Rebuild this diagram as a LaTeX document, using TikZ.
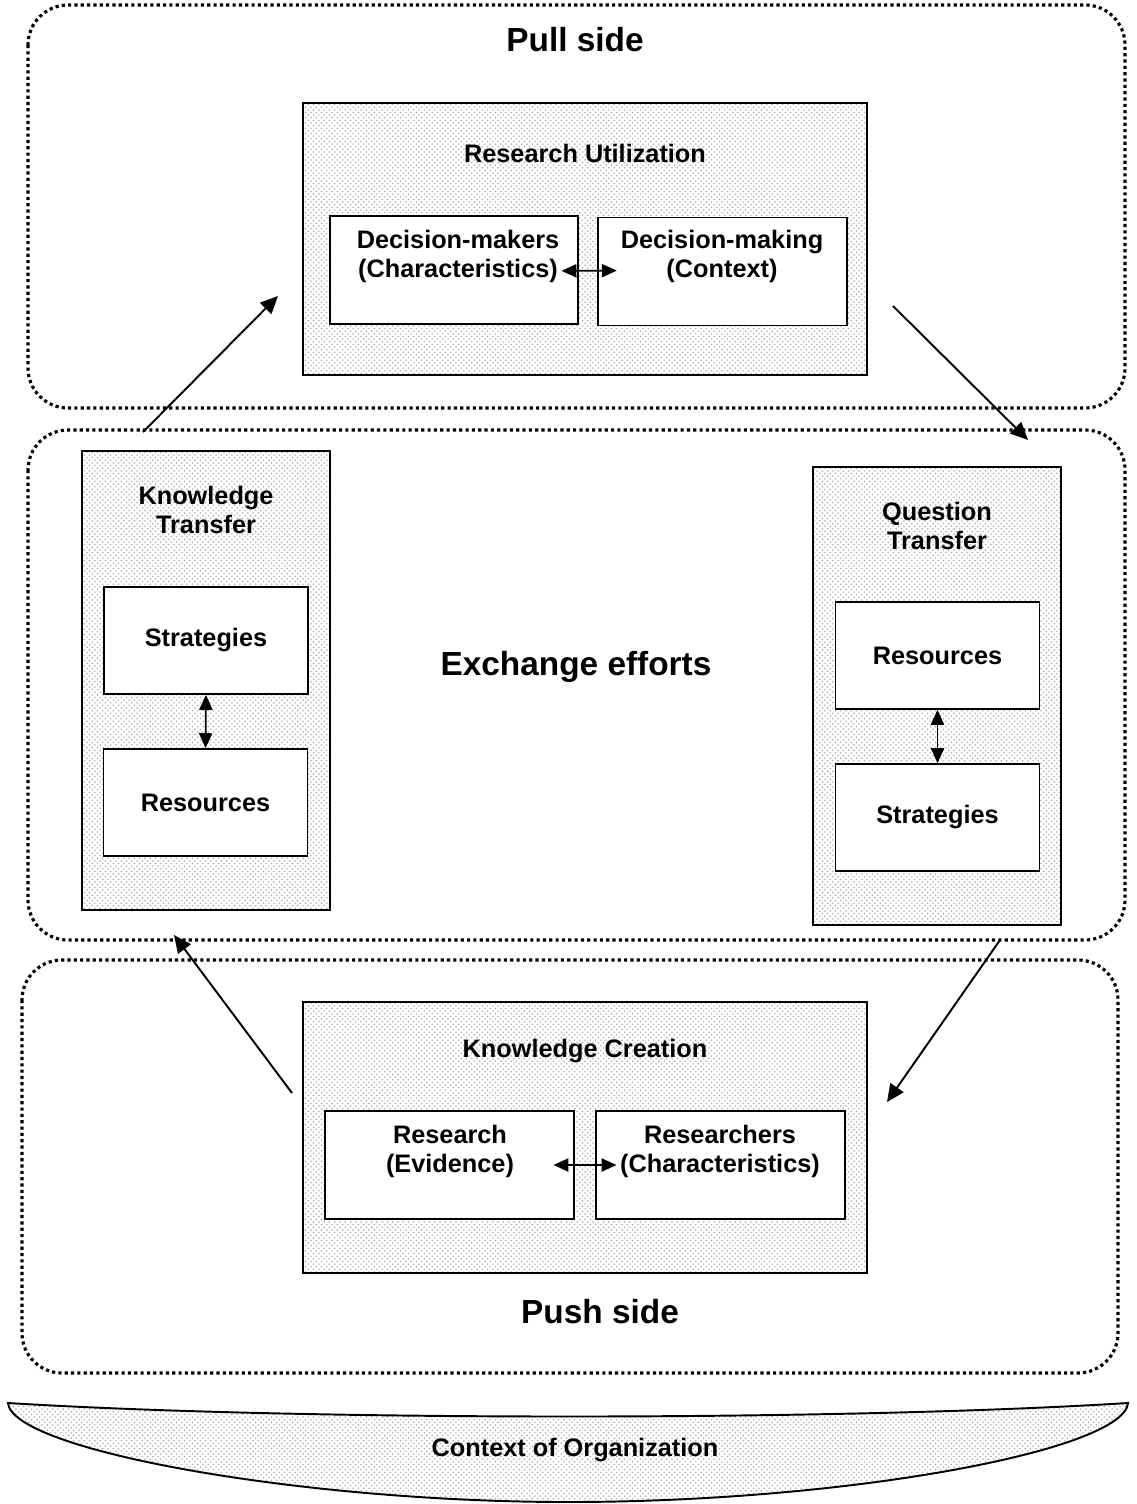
\documentclass[tikz,border=0pt]{standalone}
\usepackage{fontspec}
\setmainfont{Liberation Sans}
\usetikzlibrary{arrows.meta,patterns}

\begin{document}
\begin{tikzpicture}[x=0.02cm,y=-0.02cm,
  side/.style={draw,line width=1.8pt,dash pattern=on 1.8pt off 1.8pt,rounded corners=0.8cm},
  panel/.style={draw,line width=1pt,pattern=crosshatch dots,pattern color=gray!65,minimum width=4.96cm},
  inbox/.style={draw,fill=white,line width=1pt,minimum width=4.08cm,minimum height=2.14cm},
  wbox/.style={inbox,minimum width=4.97cm,minimum height=2.16cm},
  txt/.style={font=\fontsize{14.4}{16.5}\selectfont\bfseries,align=center},
  big/.style={font=\fontsize{19}{22}\selectfont\bfseries},
  link/.style={line width=1.1pt,-{Triangle[length=10pt,width=9pt]}},
  twoway/.style={line width=1pt,{Triangle[length=8.5pt,width=7.5pt]}-{Triangle[length=8.5pt,width=7.5pt]}}]
\useasboundingbox (0,0) rectangle (1136,1504);

% the three sides
\draw[side] (28,5) rectangle (1125,408);
\draw[side] (28,430) rectangle (1125,940);
\draw[side] (22,960) rectangle (1118,1373);
\node[big] (pull) at (575,40) {Pull side};
\node[big] (exch) at (576,667) {Exchange efforts};
\node[big] (push) at (600,1312) {Push side};

% research utilization
\node[panel,minimum width=11.28cm,minimum height=5.44cm] (ru) at (585,239) {};
\node[txt] (rut) at (585,153) {Research Utilization};
\node[wbox] (dm) at (454,270) {};
\node[wbox] (dg) at (722.5,271.5) {};
\node[txt] (dmt) at (458,256) {Decision-makers\\(Characteristics)};
\node[txt] (dgt) at (722,256) {Decision-making\\(Context)};
\draw[twoway] ([xshift=-10pt,yshift=-0.5pt]dm.east) -- ([xshift=11pt,yshift=0.5pt]dg.west);

% knowledge transfer
\node[panel,minimum height=9.18cm] (kt) at (206,680.5) {};
\node[txt] (ktt) at (206,510) {Knowledge\\Transfer};
\node[inbox,txt] (ks) at (206,640.5) {Strategies};
\node[inbox,txt] (kr) at (205.5,802.5) {Resources};
\draw[twoway] (ks.south) -- (kr.north);

% question transfer
\node[panel,minimum height=9.16cm] (qt) at (937,696) {};
\node[txt] (qtt) at (937,526) {Question\\Transfer};
\node[inbox,txt] (qr) at (937.5,655.5) {Resources};
\node[inbox,txt] (qs) at (937.5,817.5) {Strategies};
\draw[twoway] (qr.south) -- (qs.north);

% knowledge creation
\node[panel,minimum width=11.28cm,minimum height=5.42cm] (kc) at (585,1137.5) {};
\node[txt] (kct) at (585,1051) {Knowledge Creation};
\node[wbox] (rv) at (449.5,1165) {};
\node[wbox] (rc) at (720.5,1165) {};
\node[txt] (rvt) at (450,1151) {Research\\(Evidence)};
\node[txt] (rct) at (720,1151) {Researchers\\(Characteristics)};
\draw[twoway] ([xshift=-12pt]rv.east) -- ([xshift=12pt]rc.west);

% flow between the sides
\coordinate (up1) at (143,432);
\coordinate (up2) at (278,296);
\coordinate (dn1) at (893,306);
\coordinate (dn2) at (1028,440);
\coordinate (bk1) at (292,1093);
\coordinate (bk2) at (174,935);
\coordinate (fw1) at (1000,940);
\coordinate (fw2) at (887,1102);
\draw[link] (up1) -- (up2);
\draw[link] (dn1) -- (dn2);
\draw[link] (bk1) -- (bk2);
\draw[link] (fw1) -- (fw2);

% context of organization
\draw[line width=1.1pt,pattern=crosshatch dots,pattern color=gray!65]
  (8,1403) .. controls (300,1421) and (840,1421) .. (1128,1403)
  .. controls (1124,1450) and (850,1502) .. (568,1502)
  .. controls (300,1502) and (12,1450) .. (8,1403) -- cycle;
\node[txt] (ctx) at (575,1450) {Context of Organization};
\end{tikzpicture}
\end{document}
